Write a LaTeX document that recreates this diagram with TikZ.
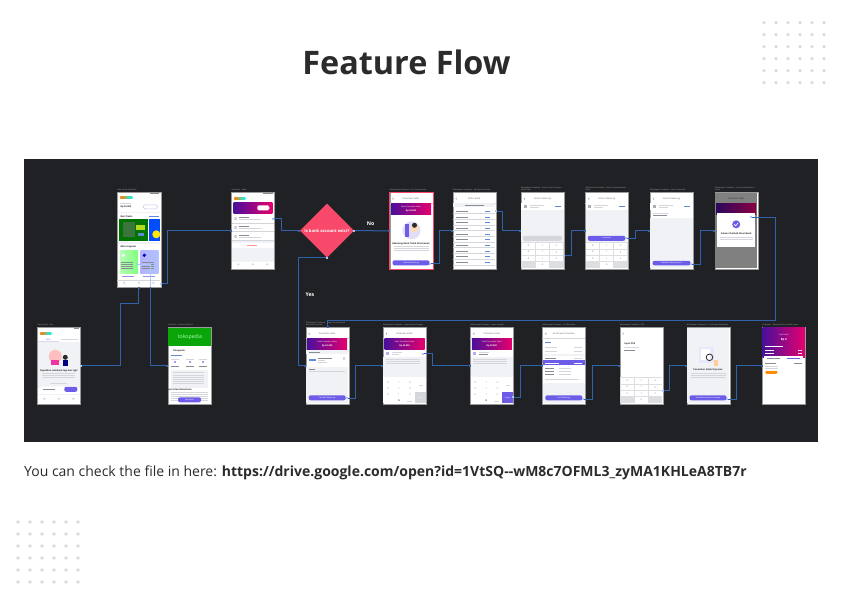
\documentclass[tikz,border=0pt]{standalone}
\usepackage{fontspec}
\setmainfont{Open Sans}
\usetikzlibrary{positioning, calc, arrows.meta, shapes.geometric}
\definecolor{panel}{HTML}{202124}
\definecolor{ink}{HTML}{2B2B2B}
\definecolor{spot}{HTML}{DADADA}
\definecolor{wire}{HTML}{2F62AA}
\definecolor{wirelit}{HTML}{A9C8F5}
\definecolor{rim}{HTML}{9A9A9A}
\definecolor{body}{HTML}{F1F2F5}
\definecolor{purple}{HTML}{6C5CE7}
\definecolor{headl}{HTML}{4A0F9B}
\definecolor{headm}{HTML}{A8108A}
\definecolor{headr}{HTML}{E6006E}
\definecolor{rose}{HTML}{F9496B}
\definecolor{soft}{HTML}{D4D6DB}
\definecolor{deep}{HTML}{8A8C94}
\definecolor{bluetext}{HTML}{5F8AD6}
\definecolor{tokogreen}{HTML}{0AA508}
\tikzset{
screen/.style = {rectangle, draw = rim, line width = 0.8pt, fill = white, inner sep = 0pt,
   anchor = north west, minimum width = 43pt, minimum height = 76.5pt},
caption/.style = {inner sep = 0pt, text = gray!70, text width = 43pt, align = left,
   font = \fontsize{1.9}{2.3}\selectfont},
scrtext/.style = {inner sep = 0pt, text = deep!70!black, font = \fontsize{2.2}{2.6}\selectfont},
scrbold/.style = {inner sep = 0pt, text = ink, font = \fontsize{2.3}{2.7}\selectfont\bfseries},
btntext/.style = {inner sep = 0pt, text = white, font = \fontsize{1.9}{2.3}\selectfont},
decision/.style = {diamond, fill = rose, inner sep = 0pt, outer sep = 0pt, aspect = 1,
   minimum width = 54pt, minimum height = 54pt},
decisiontext/.style = {inner sep = 0pt, text = white, font = \fontsize{4.1}{5}\selectfont\bfseries},
answer/.style = {inner sep = 0pt, text = white, font = \fontsize{5.2}{6}\selectfont\bfseries},
flow/.style = {draw = wire, line width = 1pt, -{Square[length = 1.6pt, width = 1.6pt]}},
port/.style = {rectangle, fill = wirelit, inner sep = 0pt, minimum size = 2pt},
spotdot/.style = {circle, fill = spot, inner sep = 0pt, minimum size = 3.6pt},
hair/.style = {draw = soft, line width = 0.25pt}
}
%% pieces of the phone screens
\newcommand{\tline}[4][soft]{\fill [#1] (#2,#3) rectangle ++(#4,0.6);}
\newcommand{\topbar}[1]{
   \draw [deep, line width = 0.35pt] (4,5.4) -- (3,6.4) -- (4,7.4);
   \node [scrtext] (title) at (21.5,6.4) {#1};
   \draw [hair] (0,10.5) -- (43,10.5);
}
\newcommand{\saldohead}{
   \shade [left color = headl, middle color = headm, right color = headr] (1.5,11.5) rectangle (41.5,22);
   \node [btntext] (saldolab) at (21.5,14.5) {Saldo Penarikan Saldo};
   \node [btntext, font = \fontsize{2.2}{2.6}\selectfont\bfseries] (saldoval) at (21.5,18.3) {Rp 50.000};
}
\newcommand{\mainbtn}[1]{
   \fill [purple, rounded corners = 2pt] (3,68) rectangle (40,73);
   \node [btntext] (btnlab) at (21.5,70.5) {#1};
}
\newcommand{\keypad}{
   \fill [soft!80] (0.4,50) rectangle (42.6,76.1);
   \foreach \r in {0,1,2} \foreach \c [evaluate = \c as \k using int(\r*3+\c+1)] in {0,1,2} {
      \fill [white] (1+14*\c,51+6.3*\r) rectangle ++(13,5.3);
      \node [scrtext] (key\k) at (7.5+14*\c,53.6+6.3*\r) {\k};
   }
   \fill [white] (15,70) rectangle ++(13,5.6);
   \node [scrtext] (key0) at (21.5,72.8) {0};
}
\newcommand{\numpad}{
   \fill [white] (0.4,50) rectangle (42.6,76.1);
   \foreach \r in {0,1,2} \foreach \c [evaluate = \c as \k using int(\r*3+\c+1)] in {0,1,2} {
      \node [scrtext] (key\k) at (5+11*\c,55+6.3*\r) {\k};
   }
   \node [scrtext] (key0) at (16,73.9) {0};
   \tline{24}{73.6}{5}
}
\newcommand{\bankrow}[1]{
   \fill [white] (0.4,#1) rectangle (42.6,#1+6.5);
   \fill [deep!70] (3,#1+2) rectangle ++(3,3);
   \tline{9}{#1+1.6}{14}
   \tline{9}{#1+3.6}{9}
   \fill [bluetext] (34,#1+2.5) rectangle ++(6,1.6);
}
\begin{document}
\begin{tikzpicture}[x = 1pt, y = -1pt]
\useasboundingbox (0,0) rectangle (842,611);

%% Page
\node [inner sep = 0pt, text = ink, font = \fontsize{32.4}{38}\selectfont\bfseries] (heading) at (406.5,62.5) {Feature Flow};
\fill [panel] (24,159) rectangle (818,442);
\node [inner sep = 0pt, anchor = base west, text = ink, font = \fontsize{14}{17}\selectfont] (note) at (24,476)
   {You can check the file in here: \textbf{https://drive.google.com/open?id=1VtSQ{-}{-}wM8c7OFML3\_zyMA1KHLeA8TB7r}};

\foreach \i in {0,...,5}
   \foreach \j in {0,...,5} {
      \node [spotdot] (up\i\j) at (764 + 12*\i, 22.7 + 12*\j) {};
      \node [spotdot] (lo\i\j) at (18 + 12*\i, 522 + 12*\j) {};
   }

%% Screens with their captions
\foreach \scr/\x/\y/\lab in {
   account/231.3/192.3/Cashback - Akun,
   nobank/389.5/192.3/Withdrawal Cashback - No Account Bank,
   banks/452.7/192.3/Withdrawal Cashback - Add Bank Account,
   acct/521/192.3/Withdrawal Cashback - Add Account Number Filled State,
   acctfill/585.3/192.3/Withdrawal Cashback - Add Account Number Filled,
   named/650/192.3/Withdrawal Cashback - Name Detected,
   done/714.7/192.3/Withdrawal Cashback - Success Add Bank Account,
   dana/37.3/327.3/New Screen - Akt,
   toko/168/327.3/Cashback - Detail Cashback,
   saldo/305.7/327.3/Withdrawal Cashback - Select Account Bank with Bank Account,
   amount/383/327.3/Withdrawal Cashback - Input Amount Empty,
   amountok/470.3/327.3/Withdrawal Cashback - Input Amount,
   confirm/542.3/327.3/Withdrawal Cashback - Confirmation,
   pin/619.7/327.3/Withdrawal Cashback - PIN,
   process/686.5/327.3/Withdrawal Cashback - Processing Withdrawal,
   result/762.3/327.3/Cashback - Riwayat Tarikan Saldo Home} {
   \node [screen] (\scr) at (\x,\y) {};
   \node [caption, above right = 1.2pt and 0pt of \scr.north west] (cap\scr) {\lab};
}
\node [screen, minimum width = 43.4pt, minimum height = 94.7pt] (home) at (117.3,192.3) {};
\node [caption, above right = 1.2pt and 0pt of home.north west] (caphome) {New Home-Cashback};

%% Home
\begin{scope}[shift = {(home.north west)}]
   \fill [deep] (33,0.8) rectangle (42,1.6);
   \shade [left color = orange, middle color = magenta!60, right color = cyan] (3,4.6) rectangle (15,6.6);
   \tline{3}{10.5}{11}
   \node [scrbold, anchor = west] (homeval) at (3,15) {Rp 54.000};
   \draw [purple!40, line width = 0.4pt, rounded corners = 1.5pt] (26,12.5) rectangle (40,16.5);
   \fill [body] (0.4,19.5) rectangle (43,21);
   \node [scrbold, anchor = west] (deals) at (3,24.4) {Best Deals};
   \tline[bluetext]{32}{24}{10}
   \fill [green!45!black] (2,27) rectangle (30.3,48.5);
   \fill [spot!55!green!50!black] (6,29.5) rectangle (18,45);
   \fill [yellow!70!green] (19,33) rectangle (28,38);
   \fill [bluetext] (21,41) rectangle (27,44);
   \fill [blue!70!cyan] (31.5,27) rectangle (43,48.5);
   \fill [yellow!90!orange] (39,42) circle (4);
   \fill [body] (0.4,50) rectangle (43,51.5);
   \node [scrbold, anchor = west] (mitra) at (3,55) {Mitra Populer};
   \shade [left color = green!30!white, right color = green!50!white] (2.5,58) rectangle (20.7,81);
   \shade [left color = blue!30!white, right color = cyan!20!blue!30!white] (23,58) rectangle (41,81);
   \fill [white] (6,63) circle (1.8);
   \fill [blue!70!black] (27,63) circle (1.8);
   \foreach \u in {70,72,74,76} {
      \tline[deep]{4}{\u}{12}
      \tline[deep]{25}{\u}{12}
   }
   \tline[purple!70]{5}{84}{12}
   \tline[purple!70]{26}{84}{12}
   \draw [hair] (0,87.5) -- (43,87.5);
   \foreach \u in {7,21.5,36} {\fill [soft] (\u,90.5) circle (1.2);}
\end{scope}

%% Account
\begin{scope}[shift = {(account.north west)}]
   \fill [deep] (32,0.8) rectangle (42,1.6);
   \shade [left color = orange, middle color = magenta!60, right color = cyan] (3,5) rectangle (14,7);
   \shade [left color = headl, right color = headr] (2.3,10) rectangle (41,21);
   \fill [white, rounded corners = 1.5pt] (26,13) rectangle (38,18);
   \foreach \u in {25,33.5,42.5} {
      \fill [soft] (3,\u) rectangle ++(3,3);
      \tline[deep]{8}{\u}{10}
      \tline{8}{\u+2}{22}
      \draw [hair] (0.4,\u+5.5) -- (42.6,\u+5.5);
   }
   \fill [body] (0.4,49) rectangle (42.6,50.5);
   \tline[red!40]{16}{52.3}{10}
   \fill [body] (0.4,55.5) rectangle (42.6,69.5);
   \foreach \u in {7,21.5,36} {\fill [soft] (\u,72) circle (1.2);}
\end{scope}

%% Is there a bank account
\node [decision] (exist) at (327,230.5) {};
\node [decisiontext] (existlab) at (exist) {Is bank account exist?};
\node [answer] (no) at (370.7,224) {No};
\node [answer] (yes) at (310,295) {Yes};

\begin{scope}[shift = {(nobank.north west)}]
   \topbar{Penarikan Saldo}
   \saldohead
   \fill [purple!20] (22,38) circle (9);
   \fill [purple] (15,32) rectangle (19,45);
   \fill [orange!30] (25,36) circle (4);
   \fill [ink] (25,33) circle (2.5);
   \node [scrbold] (nobanklab) at (21.5,51.3) {Rekening Bank Tidak Ditemukan};
   \foreach \u in {54,56,58} {\tline{4}{\u}{35}}
   \mainbtn{Tambah Rekening}
\end{scope}
\draw [rose, line width = 1pt] (nobank.north west) rectangle (nobank.south east);

\begin{scope}[shift = {(banks.north west)}]
   \topbar{Daftar Bank}
   \fill [body] (0.4,11) rectangle (42.6,14.5);
   \tline[deep]{12}{12.4}{19}
   \foreach \u in {18.5,24.2,...,75} {
      \tline[deep]{3}{\u}{12}
      \fill [bluetext] (32,\u) rectangle ++(5,0.9);
      \draw [hair] (0.4,\u+2.6) -- (42.6,\u+2.6);
   }
\end{scope}

\begin{scope}[shift = {(acct.north west)}]
   \topbar{Nomor Rekening}
   \bankrow{11}
   \fill [body] (0.4,17.5) rectangle (42.6,50);
   \fill [soft, rounded corners = 2pt] (2,43.5) rectangle (41,48.5);
   \keypad
\end{scope}

\begin{scope}[shift = {(acctfill.north west)}]
   \topbar{Nomor Rekening}
   \bankrow{11}
   \fill [body] (0.4,17.5) rectangle (42.6,50);
   \fill [purple, rounded corners = 2pt] (2.5,43.5) rectangle (40,48.5);
   \node [btntext] (acctbtn) at (21.5,46) {Lanjutkan};
   \keypad
\end{scope}

\begin{scope}[shift = {(named.north west)}]
   \topbar{Nomor Rekening}
   \bankrow{11}
   \tline{3}{20.5}{15}
   \tline[deep]{3}{22.5}{14}
   \draw [hair] (0.4,25.5) -- (42.6,25.5);
   \fill [body] (0.4,25.7) rectangle (42.6,76.1);
   \fill [purple, rounded corners = 2pt] (2.5,68.5) rectangle (40.5,73);
   \node [btntext] (namebtn) at (21.5,70.8) {Tambah Rekening Bank};
\end{scope}

\begin{scope}[shift = {(done.north west)}]
   \fill [gray] (0.4,0.4) rectangle (42.6,76.1);
   \node [scrtext, text = ink] (donetitle) at (21.5,6.4) {Penarikan Saldo};
   \shade [left color = headl!60!black, right color = headr!60!black] (1.5,11.5) rectangle (41.5,22);
   \fill [white] (2.5,21) rectangle (40.5,55);
   \fill [purple] (21.5,32) circle (4);
   \draw [white, line width = 0.6pt] (19.5,32) -- (21,33.5) -- (23.5,30.5);
   \node [scrbold] (donelab) at (21.5,41) {Sukses Tambah Akun Bank};
   \foreach \u in {44.5,46.5} {\tline{5}{\u}{33}}
\end{scope}

%% Second row
\begin{scope}[shift = {(dana.north west)}]
   \fill [deep] (37,0.8) rectangle (42,1.6);
   \shade [left color = orange, middle color = magenta!60, right color = cyan] (3,5) rectangle (14,7);
   \node [scrtext, text = purple] (danatab) at (11,12) {AKU};
   \tline{24}{11.5}{17}
   \fill [purple!25] (0.4,14) rectangle (21.5,15);
   \fill [body] (0.4,15) rectangle (42.6,61);
   \fill [pink] (18,29) circle (6.5);
   \fill [magenta!80] (14,33) rectangle (22,38);
   \fill [ink] (28,30) circle (2.5);
   \fill [blue!50!black] (26,33) rectangle (31,39);
   \node [scrbold] (danalab) at (21.5,43.3) {Dapatkan cashback lagi dan lagi!};
   \foreach \u in {46,48,50} {\tline{5}{\u}{33}}
   \tline{13}{55.5}{17}
   \fill [white, rounded corners = 2pt] (3,59) rectangle (40,65);
   \fill [purple, rounded corners = 2pt] (27,59.5) rectangle (40,64.5);
   \tline[deep]{6}{61.7}{12}
   \fill [body] (0.4,66.5) rectangle (42.6,68);
   \foreach \u in {7,21.5,36} {\fill [soft] (\u,71.5) circle (1.2);}
\end{scope}

\begin{scope}[shift = {(toko.north west)}]
   \fill [tokogreen] (0.4,0.4) rectangle (42.6,19);
   \node [inner sep = 0pt, text = white!70!green, font = \fontsize{5.2}{6}\selectfont] (tokolab) at (22,9.7) {tokopedia};
   \node [scrbold] (tokoname) at (11,23.5) {Tokopedia};
   \tline[bluetext]{3}{27.2}{11}
   \foreach \u in {7,21.5,35} {
      \tline{\u-4}{31.5}{8}
      \fill [purple!60] (\u-1,34) rectangle ++(2,2);
      \tline[deep]{\u-4}{38.5}{8}
   }
   \fill [body] (3,43) rectangle (40,61);
   \foreach \u in {45,48,50,52,54,56} {\tline{5}{\u}{31}}
   \node [scrbold] (tokoterm) at (11,63) {Syarat dan Ketentuan};
   \foreach \u in {65,67,69,71,73} {\tline{3}{\u}{37}}
   \fill [purple, rounded corners = 2pt] (10,70) rectangle (33,75);
   \node [btntext] (tokobtn) at (21.5,72.5) {Lanjutkan};
\end{scope}

\begin{scope}[shift = {(saldo.north west)}]
   \topbar{Penarikan Saldo}
   \saldohead
   \fill [body] (0.4,22.5) rectangle (42.6,27);
   \tline[deep]{3}{24.5}{11}
   \fill [bluetext] (3,32) rectangle ++(7,2);
   \tline[deep]{12}{31}{14}
   \tline{12}{33}{7}
   \tline{12}{35}{9}
   \fill [soft] (37,30) rectangle ++(2,3);
   \fill [body] (0.4,40) rectangle (42.6,76.1);
   \tline[deep]{3}{41.5}{6}
   \tline{3}{43.7}{36}
   \mainbtn{Tambah Rekening}
\end{scope}

\begin{scope}[shift = {(amount.north west)}]
   \topbar{Penarikan Saldo}
   \saldohead
   \fill [purple!50] (3,25) rectangle ++(3,2.5);
   \tline{9}{25}{10}
   \tline{9}{27}{7}
   \fill [body] (0.4,30) rectangle (42.6,52);
   \foreach \u in {32,34,36} {\tline{3}{\u}{34}}
   \numpad
   \fill [soft] (32,64.5) rectangle (42.6,76.1);
   \node [btntext] (amountgo) at (37.3,70.3) {Lanjut};
   \tline{36}{58}{4}
\end{scope}

\begin{scope}[shift = {(amountok.north west)}]
   \topbar{Penarikan Saldo}
   \saldohead
   \fill [purple!50] (3,25) rectangle ++(3,2.5);
   \tline{9}{25}{10}
   \tline[deep]{9}{27}{9}
   \fill [body] (0.4,30) rectangle (42.6,52);
   \foreach \u in {32,34,36} {\tline{3}{\u}{34}}
   \numpad
   \fill [purple] (32,64.5) rectangle (42.6,76.1);
   \node [btntext] (amountokgo) at (37.3,70.3) {Lanjut};
   \tline{36}{58}{4}
\end{scope}

\begin{scope}[shift = {(confirm.north west)}]
   \topbar{Konfirmasi Penarikan}
   \fill [bluetext] (3,14.5) rectangle ++(6,1.6);
   \foreach \u in {20,24} {\tline{3}{\u}{12} \tline{32}{\u}{8}}
   \fill [body] (0.4,27) rectangle (42.6,29);
   \tline[deep]{3}{30.8}{11}
   \tline{32}{30.8}{8}
   \fill [purple] (0.4,33) rectangle (42.6,38);
   \tline[white]{3}{35.2}{14}
   \tline[white]{32}{35.2}{8}
   \foreach \u in {41,44,47} {\tline[deep]{3}{\u}{9} \tline{17}{\u}{12}}
   \tline{3}{52}{34}
   \fill [body] (0.4,56) rectangle (42.6,76.1);
   \mainbtn{Tarik Sekarang}
\end{scope}

\begin{scope}[shift = {(pin.north west)}]
   \draw [deep, line width = 0.35pt] (4,5.4) -- (3,6.4) -- (4,7.4);
   \node [scrbold, anchor = west] (pinlab) at (4.5,17) {Input PIN};
   \tline{4.5}{20}{15}
   \tline[deep]{4.5}{23}{11}
   \keypad
\end{scope}

\begin{scope}[shift = {(process.north west)}]
   \fill [body] (0.4,0.4) rectangle (42.6,76.1);
   \fill [purple!15] (12,20) rectangle (27,36);
   \fill [white] (14,22) rectangle (23,33);
   \fill [orange!40] (27,33) rectangle (31,39);
   \draw [ink, line width = 0.8pt] (23,30) circle (3.3);
   \node [scrbold] (processlab) at (21.5,43) {Penarikan Saldo Diproses};
   \foreach \u in {46,48,50} {\tline{4}{\u}{35}}
   \mainbtn{Kembali ke Halaman Depan}
\end{scope}

\begin{scope}[shift = {(result.north west)}]
   \shade [left color = headl, middle color = headm, right color = headr] (0.4,0.4) rectangle (42.6,30);
   \node [btntext] (resulttitle) at (21.5,7) {Total Saldo};
   \node [btntext, font = \fontsize{2.8}{3.2}\selectfont\bfseries] (resultval) at (21.5,12.8) {Rp 0};
   \tline[white]{3}{19}{18}
   \foreach \u in {22.5,25.7} {\tline[white]{3}{\u}{9} \tline[white]{36}{\u}{4}}
   \fill [white] (1.5,28.5) rectangle (41,76.1);
   \tline[deep]{5}{30.5}{13}
   \tline[purple]{25}{30.5}{13}
   \tline[deep]{3}{36}{11}
   \tline[deep]{32}{36}{8}
   \tline{3}{38.5}{13}
   \tline{3}{40.5}{13}
   \fill [orange!90!yellow, rounded corners = 1pt] (3,43.5) rectangle (15,46.5);
\end{scope}

%% Where the links leave a screen
\foreach \p/\s/\dx/\dy in {
   pnav/home/43.4/91.4, pcard/home/20/72, paccount/account/41.7/26.4,
   pnobank/nobank/40.5/71.4, pbanks/banks/43/19, pacct/acct/43/63.4,
   pfill/acctfill/40.7/46, pnamed/named/40.7/71.7, pdone/done/36.3/24.7,
   psaldo/saldo/41/71, pamount/amount/39.7/26.4, pamountok/amountok/43/70,
   pconfirm/confirm/41/71.7, ppin/pin/43/63.4, pprocess/process/40.2/71.7}
   \coordinate (\p) at ([shift = {(\dx,\dy)}]\s.north west);
\coordinate (pdana) at (dana.east);
\coordinate (pno) at (exist.east);
\coordinate (pyes) at (exist.south);
\coordinate (navin) at ([shift = {(21.4,94.7)}]home.north west);
\coordinate (lift) at (120.3,303.7);
\coordinate (back) at (775.3,320.3);
\coordinate (cardlow) at (150.7,287);

%% Links
\foreach \a/\d/\b in {
   pnav/6.6/account, pcard/13.4/toko, paccount/8.3/exist,
   pnobank/9.7/banks, pbanks/6.6/acct, pacct/7/acctfill,
   pfill/9/named, pnamed/9.3/done, psaldo/9/amount,
   pamount/10/amountok, pamountok/7/confirm, pconfirm/9/pin,
   ppin/6.6/process, pprocess/9.6/result}
   \draw [flow] (\a) -- ++(\d,0) |- (\b.west);
\draw [flow] (pdana) -| (lift) -| (navin);
\draw [flow] (pno) -- (nobank.west);
\draw [flow] (pyes) -- ++(-28.7,0) |- (saldo.west);
\draw [flow] (pdone) -| (back) -| (saldo.north);
\draw [wirelit, line width = 0.6pt] (pcard) -| (cardlow);

\foreach \p in {pnav, pcard, paccount, pnobank, pbanks, pacct, pfill, pnamed, pdone,
   psaldo, pamount, pamountok, pconfirm, ppin, pprocess, pno, pyes, pdana}
   \node [port] (mark\p) at (\p) {};

\end{tikzpicture}
\end{document}
